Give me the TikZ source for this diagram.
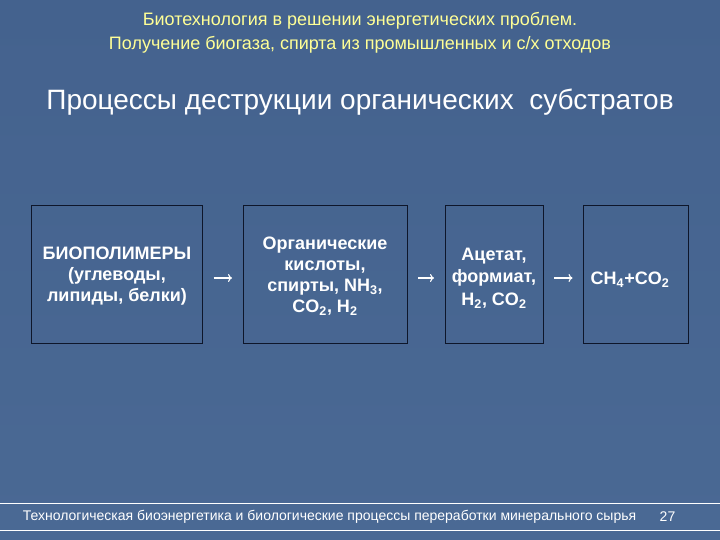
\documentclass[tikz,border=0pt]{standalone}
\usepackage{fontspec}
\setmainfont{Liberation Sans}
\usetikzlibrary{positioning,arrows.meta}
\definecolor{slidebg}{RGB}{74,105,148}
\definecolor{slidetop}{RGB}{68,98,142}
\definecolor{capyellow}{RGB}{255,255,150}
\definecolor{boxline}{RGB}{14,22,42}

\begin{document}
\begin{tikzpicture}[x=1pt,y=-1pt,
    stage/.style={draw=boxline, line width=1pt, minimum height=137pt, inner sep=0pt},
    stagetext/.style={text=white, align=center, inner sep=0pt, font=\fontsize{18}{21}\selectfont\bfseries},
    flow/.style={-{To[length=4pt,width=8pt]}, white, line width=1.2pt, shorten <=10.5pt, shorten >=10.5pt}]
    % Slide background
    \useasboundingbox (0,0) rectangle (720,540);
    \shade[top color=slidetop, bottom color=slidebg] (0,0) rectangle (720,540);

    % Heading
    \node[capyellow, font=\fontsize{18}{24}\selectfont, align=center] (topic) at (360,33)
        {Биотехнология в решении энергетических проблем.\\Получение биогаза, спирта из промышленных и с/х отходов};
    \node[white, font=\fontsize{28}{32}\selectfont] (title) at (360,102)
        {Процессы деструкции органических\ \ субстратов};

    % Stages of destruction
    \node[stage, minimum width=171pt] (bio) at (117,274.5) {};
    \node[stage, minimum width=164pt] (acid) at (325,274.5) {};
    \node[stage, minimum width=98pt] (acet) at (494,274.5) {};
    \node[stage, minimum width=105pt] (gas) at (636,274.5) {};

    \node[stagetext] (biotext) at (117,276)
        {БИОПОЛИМЕРЫ\\(углеводы,\\липиды, белки)};
    \node[stagetext] (acidtext) at (325,276.5)
        {Органические\\кислоты,\\спирты, NH\textsubscript{3},\\CO\textsubscript{2}, H\textsubscript{2}};
    \node[stagetext, font=\fontsize{18}{22.5}\selectfont\bfseries] (acettext) at (494,278)
        {Ацетат,\\формиат,\\H\textsubscript{2}, CO\textsubscript{2}};
    \node[stagetext] (gastext) at (630,280)
        {CH\textsubscript{4}+CO\textsubscript{2}};

    % Arrows between stages
    \foreach \a/\b in {bio/acid, acid/acet, acet/gas} {
        \draw[flow] ([yshift=-3.5pt]\a.east) -- ([yshift=-3.5pt]\b.west);
    }

    % Footer
    \draw[white, line width=1pt] (0,503.3) -- (720,503.3);
    \draw[white, line width=1pt] (0,530) -- (720,530);
    \node[white, anchor=west, inner sep=0pt, font=\fontsize{14}{16}\selectfont] (footer) at (22.7,516.7)
        {Технологическая биоэнергетика и биологические процессы переработки минерального сырья};
    \node[white, inner sep=0pt, font=\fontsize{14}{16}\selectfont] (page) at (667.5,516.7) {27};
\end{tikzpicture}
\end{document}
